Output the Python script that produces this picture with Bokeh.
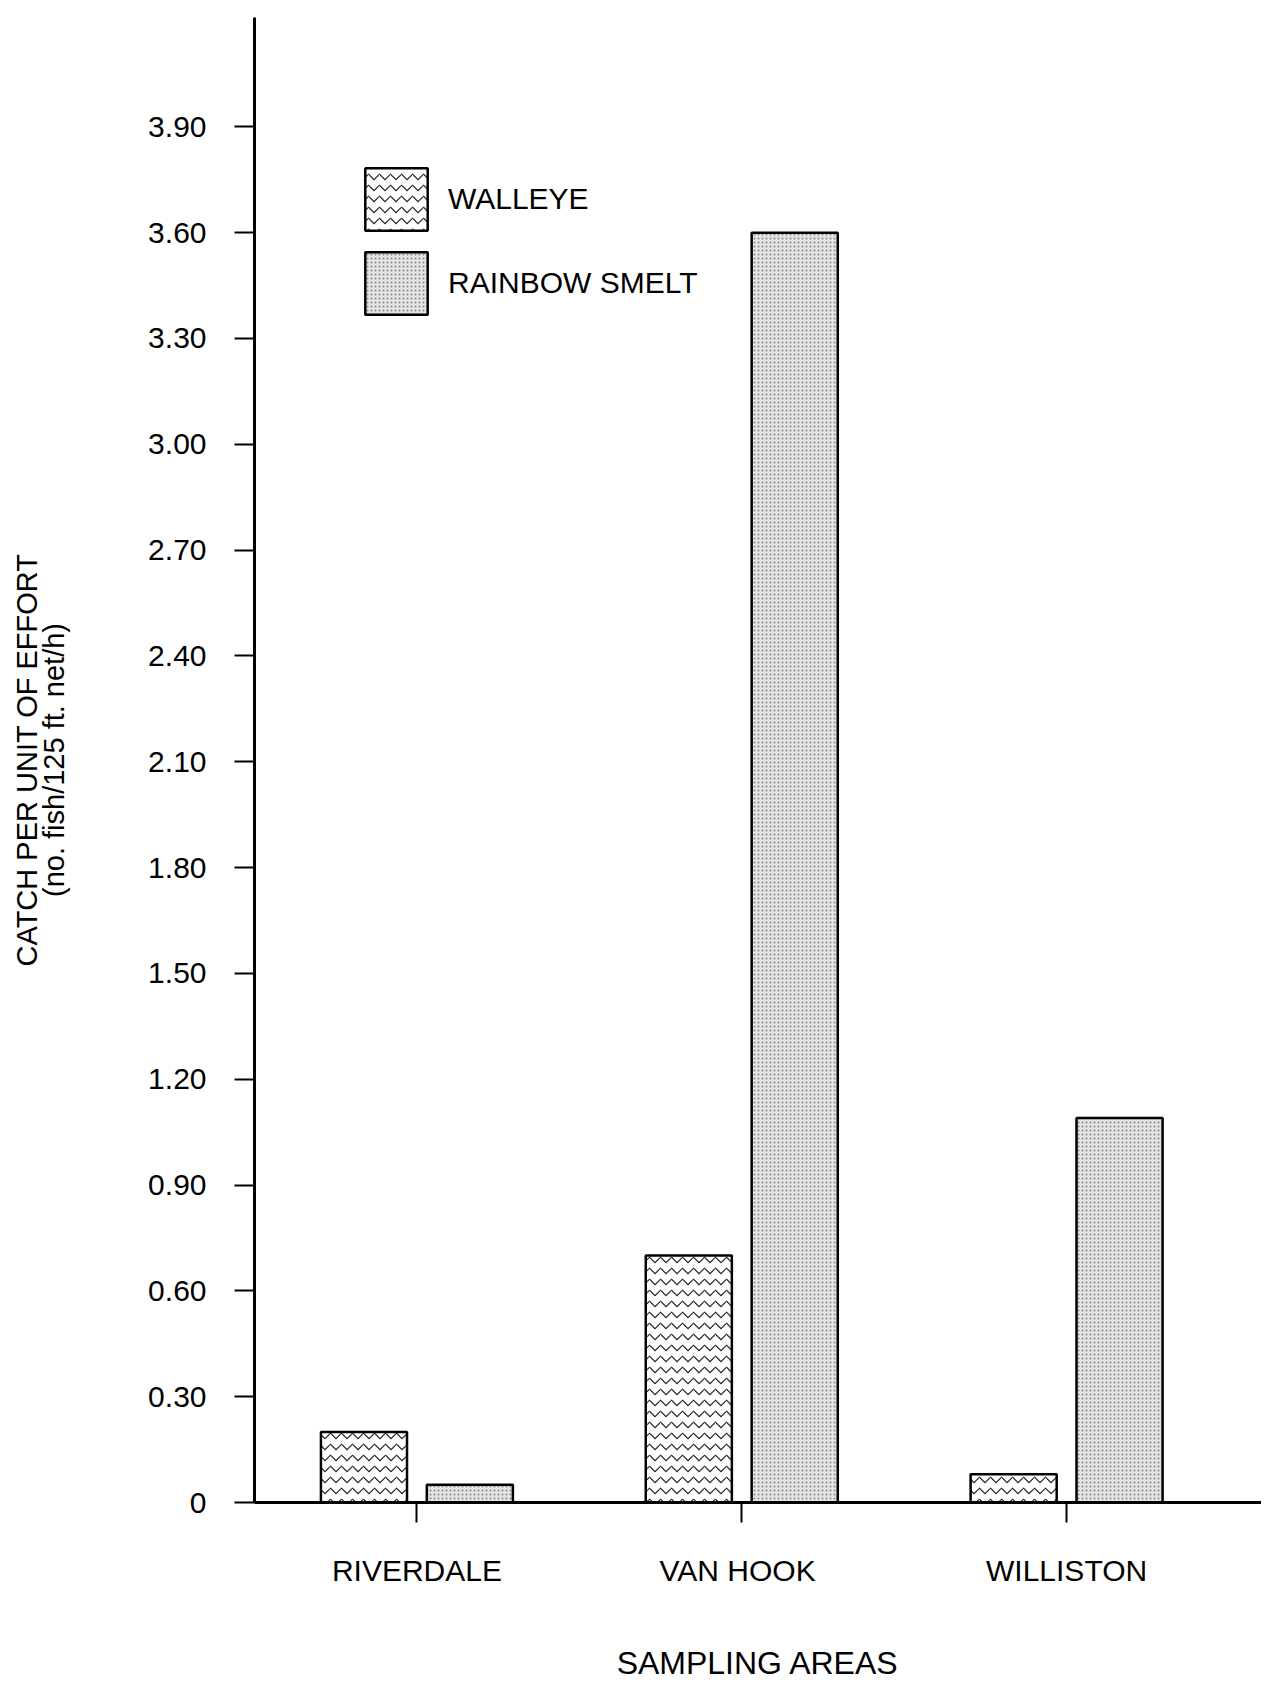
from bokeh.plotting import figure
from bokeh.models import ColumnDataSource, Range1d, FixedTicker, Legend, LegendItem
from bokeh.transform import dodge
from bokeh.embed import file_html
from bokeh.resources import INLINE

# ---- data ----
areas = ["RIVERDALE", "VAN  HOOK", "WILLISTON"]
walleye = [0.20, 0.70, 0.08]
rainbow_smelt = [0.05, 3.60, 1.09]
y_ticks = [0.0, 0.30, 0.60, 0.90, 1.20, 1.50, 1.80, 2.10, 2.40, 2.70, 3.00, 3.30, 3.60, 3.90]
y_tick_labels = ["0", "0.30", "0.60", "0.90", "1.20", "1.50", "1.80", "2.10",
                 "2.40", "2.70", "3.00", "3.30", "3.60", "3.90"]
series_names = ["WALLEYE", "RAINBOW SMELT"]

FONT = "Liberation Sans"

src = ColumnDataSource(dict(x=list(range(len(areas))), walleye=walleye, smelt=rainbow_smelt))

p = figure(width=1261, height=1684, output_backend="svg", toolbar_location=None,
           x_range=Range1d(-0.5, 2.60), y_range=Range1d(0, 4.21),
           min_border_left=254, min_border_right=0, min_border_top=17, min_border_bottom=182)
p.outline_line_color = None
p.xgrid.visible = False
p.ygrid.visible = False
p.background_fill_color = "white"
p.border_fill_color = "white"

bw = 0.265
r1 = p.vbar(x=dodge("x", -0.163), top="walleye", width=bw, source=src,
            fill_color="white", line_color="black", line_width=2.5,
            hatch_pattern="horizontal_wave", hatch_color="#222222",
            hatch_scale=11, hatch_weight=1.2)
r2 = p.vbar(x=dodge("x", 0.163), top="smelt", width=bw, source=src,
            fill_color="#e4e4e4", line_color="black", line_width=2.5,
            hatch_pattern="dot", hatch_color="#8a8a8a",
            hatch_scale=4, hatch_weight=1.0)

legend = Legend(items=[LegendItem(label=series_names[0], renderers=[r1]),
                       LegendItem(label=series_names[1], renderers=[r2])],
                location=(103, 1180), padding=0, margin=0, spacing=6,
                glyph_width=78, glyph_height=78, label_standoff=13,
                border_line_color=None, background_fill_alpha=0,
                label_text_font=FONT, label_text_font_size="30px",
                label_text_color="black")
p.add_layout(legend)

# x axis
xa = p.xaxis[0]
xa.ticker = FixedTicker(ticks=list(range(len(areas))))
xa.major_label_overrides = {i: a for i, a in enumerate(areas)}
xa.minor_tick_line_color = None
xa.major_tick_in = 0
xa.major_tick_out = 20
xa.major_tick_line_width = 2
xa.axis_line_width = 3
xa.axis_line_color = "black"
xa.major_label_standoff = 31
xa.major_label_text_font = FONT
xa.major_label_text_font_size = "30px"
xa.major_label_text_color = "black"
xa.axis_label = "SAMPLING AREAS"
xa.axis_label_text_font = FONT
xa.axis_label_text_font_size = "32px"
xa.axis_label_text_font_style = "normal"
xa.axis_label_text_color = "black"
xa.axis_label_standoff = 55

# y axis
ya = p.yaxis[0]
ya.ticker = FixedTicker(ticks=y_ticks)
ya.major_label_overrides = {t: l for t, l in zip(y_ticks, y_tick_labels)}
ya.minor_tick_line_color = None
ya.major_tick_in = 0
ya.major_tick_out = 20
ya.major_tick_line_width = 2
ya.axis_line_width = 3
ya.axis_line_color = "black"
ya.major_label_standoff = 28
ya.major_label_text_font = FONT
ya.major_label_text_font_size = "30px"
ya.major_label_text_color = "black"
ya.axis_label = "CATCH PER UNIT OF EFFORT\n(no. fish/125 ft. net/h)"
ya.axis_label_text_font = FONT
ya.axis_label_text_font_size = "29px"
ya.axis_label_text_font_style = "normal"
ya.axis_label_text_color = "black"
ya.axis_label_text_line_height = 0.85
ya.axis_label_standoff = 75

open("out.html", "w").write(file_html(p, INLINE))
